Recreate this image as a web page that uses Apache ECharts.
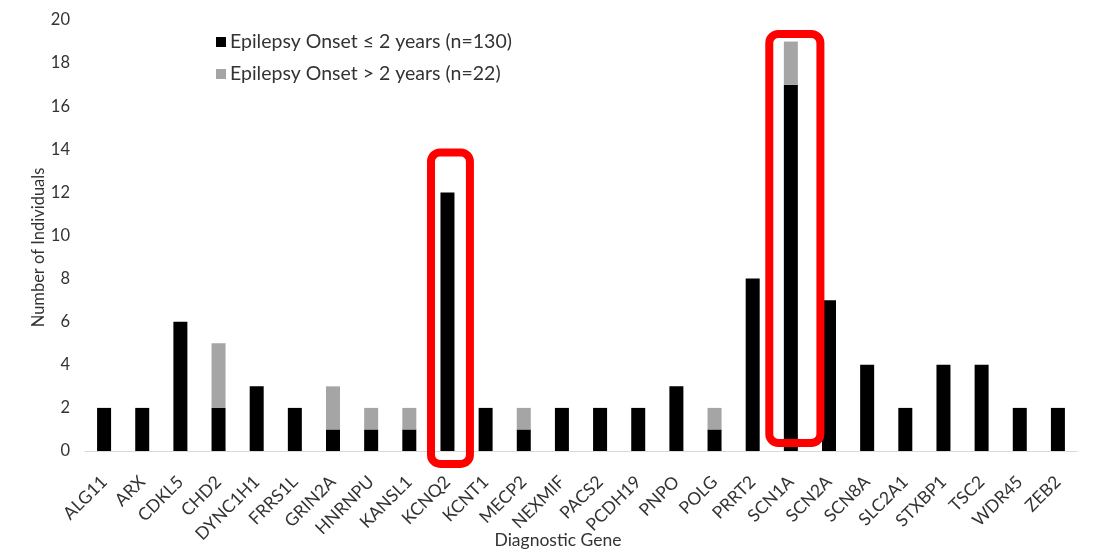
<!DOCTYPE html>
<html>
<head>
<meta charset="utf-8">
<script src="https://cdn.jsdelivr.net/npm/echarts@6/dist/echarts.min.js"></script>
<style>html,body{margin:0;padding:0;background:#fff}#c{width:1100px;height:549px}</style>
</head>
<body>
<div id="c"></div>
<script>
const genes = ['ALG11','ARX','CDKL5','CHD2','DYNC1H1','FRRS1L','GRIN2A','HNRNPU','KANSL1','KCNQ2','KCNT1','MECP2','NEXMIF','PACS2','PCDH19','PNPO','POLG','PRRT2','SCN1A','SCN2A','SCN8A','SLC2A1','STXBP1','TSC2','WDR45','ZEB2'];
const onsetEarly = [2,2,6,2,3,2,1,1,1,12,2,1,2,2,2,3,1,8,17,7,4,2,4,4,2,2];
const onsetLate  = [0,0,0,3,0,0,2,1,1,0,0,1,0,0,0,0,1,0,2,0,0,0,0,0,0,0];
const seriesNames = ['Epilepsy Onset \u2264 2 years (n=130)', 'Epilepsy Onset > 2 years (n=22)'];
const yTicks = {min: 0, max: 20, interval: 2};
// highlighted genes with value range covered by the red frame
const highlightGenes = ['KCNQ2','SCN1A'];
const highlightLow = [-0.6, 0.37];
const highlightHigh = [13.85, 19.35];

const FONT = 'Lato';
const TXT = '#333333';
const frameStyle = {widthFactor: [1.02, 1.34], shift: [3, 4], lineWidth: 8, radius: 9};

const chart = echarts.init(document.getElementById('c'), null, {renderer: 'canvas'});
chart.setOption({
  backgroundColor: '#ffffff',
  animation: false,
  textStyle: {fontFamily: FONT},
  grid: {left: 85, right: 23, top: 20, bottom: 98, containLabel: false, outerBoundsMode: 'none'},
  legend: {
    orient: 'vertical', left: 211, top: 27,
    itemWidth: 10, itemHeight: 10, itemGap: 12,
    icon: 'rect',
    textStyle: {fontFamily: FONT, fontSize: 19.5, color: TXT, padding: [0,0,0,-1]},
    data: seriesNames
  },
  xAxis: {
    type: 'category', data: genes,
    axisLine: {lineStyle: {color: '#d9d9d9', width: 1}},
    axisTick: {show: false},
    axisLabel: {rotate: 45, interval: 0, margin: 28, fontSize: 17.5, color: TXT, fontFamily: FONT},
    name: 'Diagnostic Gene', nameLocation: 'middle', nameGap: 80, nameMoveOverlap: false,
    nameTextStyle: {fontSize: 17.5, color: TXT, fontFamily: FONT, padding: [0, 46, 0, 0]}
  },
  yAxis: {
    type: 'value', min: yTicks.min, max: yTicks.max, interval: yTicks.interval,
    axisLine: {show: false}, axisTick: {show: false}, splitLine: {show: false},
    axisLabel: {fontSize: 16.5, color: TXT, fontFamily: FONT, margin: 15},
    name: 'Number of Individuals', nameLocation: 'middle', nameGap: 38, nameMoveOverlap: false,
    nameTextStyle: {fontSize: 16.5, color: TXT, fontFamily: FONT, padding: [0, 24, 0, 0]}
  },
  series: [
    {name: seriesNames[0], type: 'bar', stack: 'a', data: onsetEarly, barWidth: 14, itemStyle: {color: '#000000'}},
    {name: seriesNames[1], type: 'bar', stack: 'a', data: onsetLate, barWidth: 14, itemStyle: {color: '#a5a5a5'}},
    {
      type: 'custom', z: 10, silent: true, clip: false,
      data: highlightGenes.map((g, i) => [g, highlightLow[i], highlightHigh[i], i]),
      renderItem: function (params, api) {
        const i = api.value(3);
        const band = api.size([1, 0])[0];
        const top = api.coord([api.value(0), api.value(2)]);
        const bot = api.coord([api.value(0), api.value(1)]);
        const w = band * frameStyle.widthFactor[i];
        return {
          type: 'rect',
          shape: {x: top[0] - w / 2 + frameStyle.shift[i], y: top[1], width: w, height: bot[1] - top[1], r: frameStyle.radius},
          style: {fill: null, stroke: '#ff0000', lineWidth: frameStyle.lineWidth}
        };
      },
      encode: {x: 0, y: [1, 2]}
    }
  ]
});
</script>
</body>
</html>
